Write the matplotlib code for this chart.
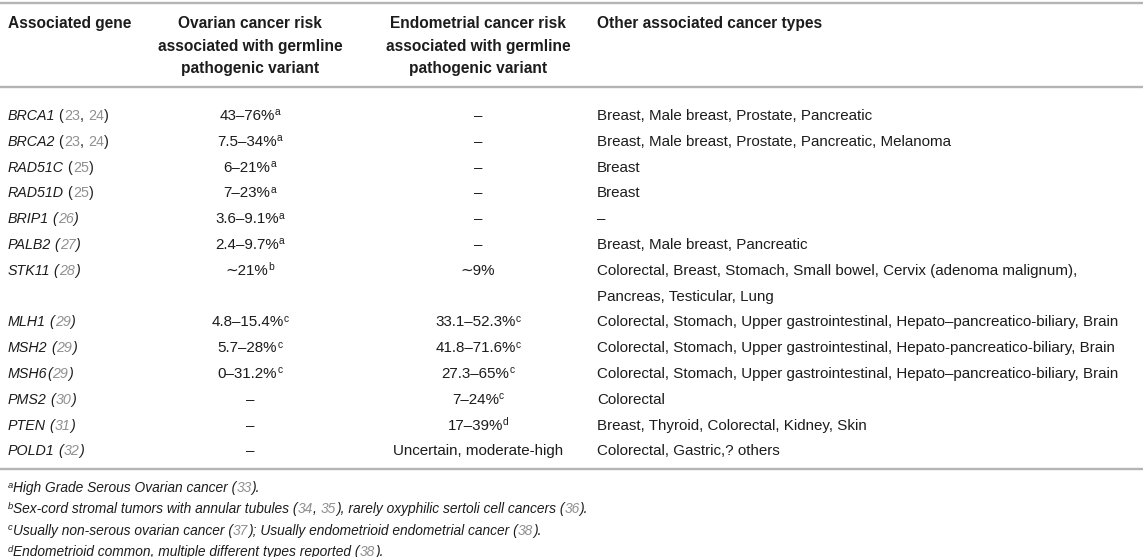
import matplotlib
matplotlib.use("agg")
import matplotlib.pyplot as plt

# table content
header_gene = ["Associated gene"]
header_ovarian = ["Ovarian cancer risk", "associated with germline", "pathogenic variant"]
header_endometrial = ["Endometrial cancer risk", "associated with germline", "pathogenic variant"]
header_other = ["Other associated cancer types"]

genes = ["BRCA1", "BRCA2", "RAD51C", "RAD51D", "BRIP1", "PALB2", "STK11",
         "MLH1", "MSH2", "MSH6", "PMS2", "PTEN", "POLD1"]
gene_refs = [["23", "24"], ["23", "24"], ["25"], ["25"], ["26"], ["27"], ["28"],
             ["29"], ["29"], ["29"], ["30"], ["31"], ["32"]]
italic_parens = [False, False, False, False, True, True, True,
                 True, True, True, True, True, True]
ref_space = [True] * 9 + [False] + [True] * 3

ovarian_risk = ["43–76%", "7.5–34%", "6–21%", "7–23%", "3.6–9.1%", "2.4–9.7%",
                "∼21%", "4.8–15.4%", "5.7–28%", "0–31.2%", "–", "–", "–"]
ovarian_note = ["a", "a", "a", "a", "a", "a", "b", "c", "c", "c", "", "", ""]
endometrial_risk = ["–", "–", "–", "–", "–", "–", "∼9%", "33.1–52.3%",
                    "41.8–71.6%", "27.3–65%", "7–24%", "17–39%",
                    "Uncertain, moderate-high"]
endometrial_note = ["", "", "", "", "", "", "", "c", "c", "c", "c", "d", ""]
other_types = [
    ["Breast, Male breast, Prostate, Pancreatic"],
    ["Breast, Male breast, Prostate, Pancreatic, Melanoma"],
    ["Breast"],
    ["Breast"],
    ["–"],
    ["Breast, Male breast, Pancreatic"],
    ["Colorectal, Breast, Stomach, Small bowel, Cervix (adenoma malignum),",
     "Pancreas, Testicular, Lung"],
    ["Colorectal, Stomach, Upper gastrointestinal, Hepato–pancreatico-biliary, Brain"],
    ["Colorectal, Stomach, Upper gastrointestinal, Hepato-pancreatico-biliary, Brain"],
    ["Colorectal, Stomach, Upper gastrointestinal, Hepato–pancreatico-biliary, Brain"],
    ["Colorectal"],
    ["Breast, Thyroid, Colorectal, Kidney, Skin"],
    ["Colorectal, Gastric,? others"],
]

footnote_marks = ["a", "b", "c", "d"]
footnotes = [
    [("High Grade Serous Ovarian cancer (", "i"), ("33", "ir"), (").", "i")],
    [("Sex-cord stromal tumors with annular tubules (", "i"), ("34", "ir"),
     (", ", "i"), ("35", "ir"), ("), rarely oxyphilic sertoli cell cancers (", "i"),
     ("36", "ir"), (").", "i")],
    [("Usually non-serous ovarian cancer (", "i"), ("37", "ir"),
     ("); Usually endometrioid endometrial cancer (", "i"), ("38", "ir"), (").", "i")],
    [("Endometrioid common, multiple different types reported (", "i"),
     ("38", "ir"), (").", "i")],
]

FONT = ["Liberation Sans", "DejaVu Sans"]
SIZE = 10.9
GENE_SIZE = 10.3
HEAD_SIZE = 11.2
NOTE_SIZE = 9.9
TEXT = "#1c1c1c"
REF = "#909090"
RULE = "#b4b4b4"

COL_GENE = 8
COL_OVARIAN = 250
COL_ENDO = 478
COL_OTHER = 597

fig = plt.figure(figsize=(11.43, 5.57), dpi=100)
ax = fig.add_axes([0, 0, 1, 1])
ax.set_xlim(0, 1143)
ax.set_ylim(557, 0)
ax.axis("off")
renderer = fig.canvas.get_renderer()


def style_kw(style, size):
    kw = dict(family=FONT, fontsize=size, color=TEXT, style="normal", weight="normal")
    if "i" in style:
        kw["style"] = "italic"
    if "r" in style:
        kw["color"] = REF
    if "b" in style:
        kw["weight"] = "bold"
    if "s" in style:
        kw["fontsize"] = size * 0.68
    return kw


def ink_width(text, kw):
    t = ax.text(0, 0, text, **kw)
    w = t.get_window_extent(renderer).width
    t.remove()
    return w


def run_width(text, style, size):
    kw = style_kw(style, size)
    return ink_width("|" + text + "|", kw) - ink_width("||", kw)


def draw_runs(x, y, runs, ha="left", size=SIZE):
    widths = [run_width(s, st, size) for s, st in runs]
    total = sum(widths)
    if ha == "center":
        x -= total / 2
    for (s, st), w in zip(runs, widths):
        dy = -0.42 * size if "s" in st else 0
        ax.text(x, y + dy, s, va="baseline", ha="left", **style_kw(st, size))
        x += w


# rules
for yy in [3, 87, 469]:
    ax.plot([0, 1143], [yy, yy], color=RULE, lw=1.7, solid_capstyle="butt")

# header
head_base = [28, 51, 73.5]
draw_runs(COL_GENE, head_base[0], [(header_gene[0], "b")], size=HEAD_SIZE)
for i, line in enumerate(header_ovarian):
    draw_runs(COL_OVARIAN, head_base[i], [(line, "b")], ha="center", size=HEAD_SIZE)
for i, line in enumerate(header_endometrial):
    draw_runs(COL_ENDO, head_base[i], [(line, "b")], ha="center", size=HEAD_SIZE)
draw_runs(COL_OTHER, head_base[0], [(header_other[0], "b")], size=HEAD_SIZE)

# body
row_h = 25.8
y = 120
for k, gene in enumerate(genes):
    p = "i" if italic_parens[k] else ""
    runs = [(gene, "i"), ((" (" if ref_space[k] else "("), p)]
    for j, r in enumerate(gene_refs[k]):
        if j:
            runs.append((", ", p))
        runs.append((r, p + "r"))
    runs.append((")", p))
    draw_runs(COL_GENE, y, runs, size=GENE_SIZE)

    runs = [(ovarian_risk[k], "")]
    if ovarian_note[k]:
        runs.append((ovarian_note[k], "s"))
    draw_runs(COL_OVARIAN, y, runs, ha="center")

    runs = [(endometrial_risk[k], "")]
    if endometrial_note[k]:
        runs.append((endometrial_note[k], "s"))
    draw_runs(COL_ENDO, y, runs, ha="center")

    for line in other_types[k]:
        draw_runs(COL_OTHER, y, [(line, "")])
        y += row_h

# footnotes
fy = 492
for mark, note in zip(footnote_marks, footnotes):
    draw_runs(COL_GENE, fy, [(mark, "is")] + note, size=NOTE_SIZE)
    fy += 21.3

fig.savefig("out.png", dpi=100)
